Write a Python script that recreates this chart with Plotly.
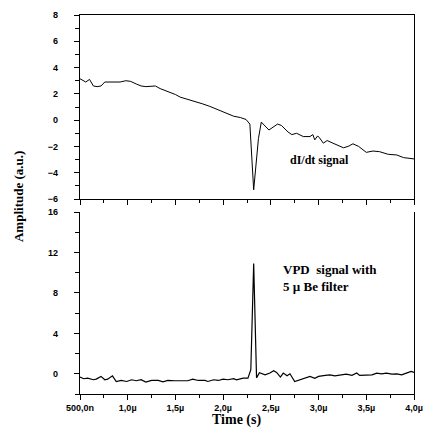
import plotly.graph_objects as go

# время в микросекундах
t_didt = [0.50, 0.53, 0.56, 0.60, 0.64, 0.68, 0.72, 0.76, 0.81, 0.87, 0.92, 0.98, 1.03,
          1.09, 1.14, 1.19, 1.29, 1.34, 1.39, 1.44, 1.50, 1.55, 1.60, 1.65, 1.72, 1.78,
          1.86, 1.91, 1.99, 2.05, 2.11, 2.18, 2.24, 2.28, 2.32, 2.37, 2.40, 2.48, 2.57,
          2.61, 2.68, 2.72, 2.77, 2.84, 2.91, 2.94, 2.96, 2.99, 3.01, 3.05, 3.09, 3.15,
          3.22, 3.26, 3.31, 3.36, 3.42, 3.50, 3.57, 3.64, 3.73, 3.82, 3.89, 4.00]
v_didt = [3.15, 3.0, 2.9, 3.1, 2.6, 2.55, 2.6, 2.9, 2.9, 2.85, 2.9, 3.0, 2.95,
          2.75, 2.6, 2.55, 2.6, 2.4, 2.25, 2.15, 1.95, 1.75, 1.65, 1.5, 1.35, 1.25,
          1.05, 0.9, 0.65, 0.5, 0.3, 0.2, 0.05, -0.3, -5.3, -1.4, -0.15, -0.75, -0.3,
          -0.4, -0.9, -1.1, -1.0, -1.25, -1.25, -1.1, -1.5, -1.2, -1.35, -1.75, -1.55, -1.75,
          -1.95, -2.1, -2.0, -1.8, -2.0, -2.45, -2.35, -2.4, -2.6, -2.65, -2.85, -2.95]

t_vpd = [0.50, 0.54, 0.58, 0.64, 0.67, 0.72, 0.76, 0.79, 0.84, 0.88, 0.93, 0.99, 1.04,
         1.09, 1.14, 1.19, 1.25, 1.32, 1.37, 1.42, 1.49, 1.56, 1.63, 1.68, 1.74, 1.81,
         1.84, 1.90, 1.95, 2.00, 2.05, 2.11, 2.14, 2.21, 2.26, 2.29, 2.32, 2.35, 2.38,
         2.44, 2.49, 2.53, 2.56, 2.60, 2.63, 2.67, 2.70, 2.75, 2.81, 2.86, 2.91, 2.96,
         3.00, 3.07, 3.12, 3.17, 3.22, 3.29, 3.35, 3.40, 3.43, 3.50, 3.56, 3.61, 3.66,
         3.71, 3.77, 3.82, 3.87, 3.92, 3.97, 4.00]
v_vpd = [-0.33, -0.49, -0.43, -0.59, -0.53, -0.26, -0.59, -0.53, -0.2, -0.76, -0.66, -0.76, -0.59,
         -0.69, -0.59, -0.82, -0.66, -0.66, -0.79, -0.66, -0.69, -0.66, -0.69, -0.53, -0.66, -0.66,
         -0.76, -0.59, -0.66, -0.53, -0.59, -0.49, -0.59, -0.43, -0.43, 0.4, 10.9, -0.4, 0.1,
         -0.1, 0.07, 0.3, 0.13, -0.33, 0.07, -0.2, 0.0, -0.76, -0.59, -0.43, -0.26, -0.45,
         -0.26, -0.16, -0.1, -0.2, -0.1, -0.03, -0.16, 0.07, -0.16, -0.1, -0.1, 0.07, 0.0,
         0.07, -0.03, 0.0, -0.1, 0.07, 0.23, 0.13]

x_tickvals = [0.5, 1.0, 1.5, 2.0, 2.5, 3.0, 3.5, 4.0]
x_ticktext = ['500,0n', '1,0µ', '1,5µ', '2,0µ', '2,5µ', '3,0µ', '3,5µ', '4,0µ']

tick_font = dict(family='Liberation Sans', size=9, color='black', weight='bold')
serif_bold = dict(family='Liberation Serif', color='black', weight='bold')

fig = go.Figure()

fig.add_trace(go.Scatter(x=t_didt, y=v_didt, mode='lines', xaxis='x', yaxis='y',
                         line=dict(color='black', width=1), showlegend=False))
fig.add_trace(go.Scatter(x=t_vpd, y=v_vpd, mode='lines', xaxis='x2', yaxis='y2',
                         line=dict(color='black', width=1.2), showlegend=False))

axis_common = dict(showline=True, linecolor='black', linewidth=1.2, ticks='outside',
                   ticklen=5, tickcolor='black', tickwidth=1, showgrid=False, zeroline=False,
                   tickfont=tick_font, automargin=False)

fig.update_layout(
    width=426, height=437,
    margin=dict(l=80, r=12, t=15, b=43),
    plot_bgcolor='white', paper_bgcolor='white',
    xaxis=dict(axis_common, domain=[0, 1], anchor='y', range=[0.5, 4.0],
               tickvals=x_tickvals, showticklabels=False, mirror=True,
               minor=dict(dtick=0.25, tick0=0.5, ticklen=3, ticks='outside', tickcolor='black')),
    yaxis=dict(axis_common, domain=[0.5145, 1], anchor='x', range=[-6, 8],
               dtick=2, tick0=0, mirror=True, ticklabelstandoff=14,
               minor=dict(dtick=1, ticklen=4, ticks='outside', tickcolor='black')),
    xaxis2=dict(axis_common, domain=[0, 1], anchor='y2', range=[0.5, 4.0],
                tickvals=x_tickvals, ticktext=x_ticktext,
                minor=dict(dtick=0.25, tick0=0.5, ticklen=3, ticks='outside', tickcolor='black')),
    yaxis2=dict(axis_common, domain=[0, 0.48], anchor='x2', range=[-2, 16],
                dtick=4, tick0=0, mirror=True, ticklabelstandoff=14,
                minor=dict(dtick=2, ticklen=4, ticks='outside', tickcolor='black')),
)

# подписи сигналов
fig.add_annotation(x=3.01, y=-3.0, xref='x', yref='y', text='dI/dt signal',
                   showarrow=False, font=dict(serif_bold, size=12))
fig.add_annotation(x=2.61, y=9.5, xref='x2', yref='y2', text='VPD  signal with<br>5 µ Be filter',
                   showarrow=False, xanchor='left', yanchor='middle', align='left',
                   font=dict(serif_bold, size=13))

# подписи осей
fig.add_annotation(x=-0.186, y=0.522, xref='paper', yref='paper', text='Amplitude (a.u.)',
                   textangle=-90, showarrow=False, xanchor='center', yanchor='middle',
                   font=dict(serif_bold, size=13))
fig.add_annotation(x=0.47, y=-0.069, xref='paper', yref='paper', text='Time (s)',
                   showarrow=False, xanchor='center', yanchor='middle',
                   font=dict(serif_bold, size=14))

# убираем отступ страницы, чтобы график встал в окно целиком
fig.write_html("out.html", config={'displayModeBar': False},
               post_script="document.body.style.margin='0';")
